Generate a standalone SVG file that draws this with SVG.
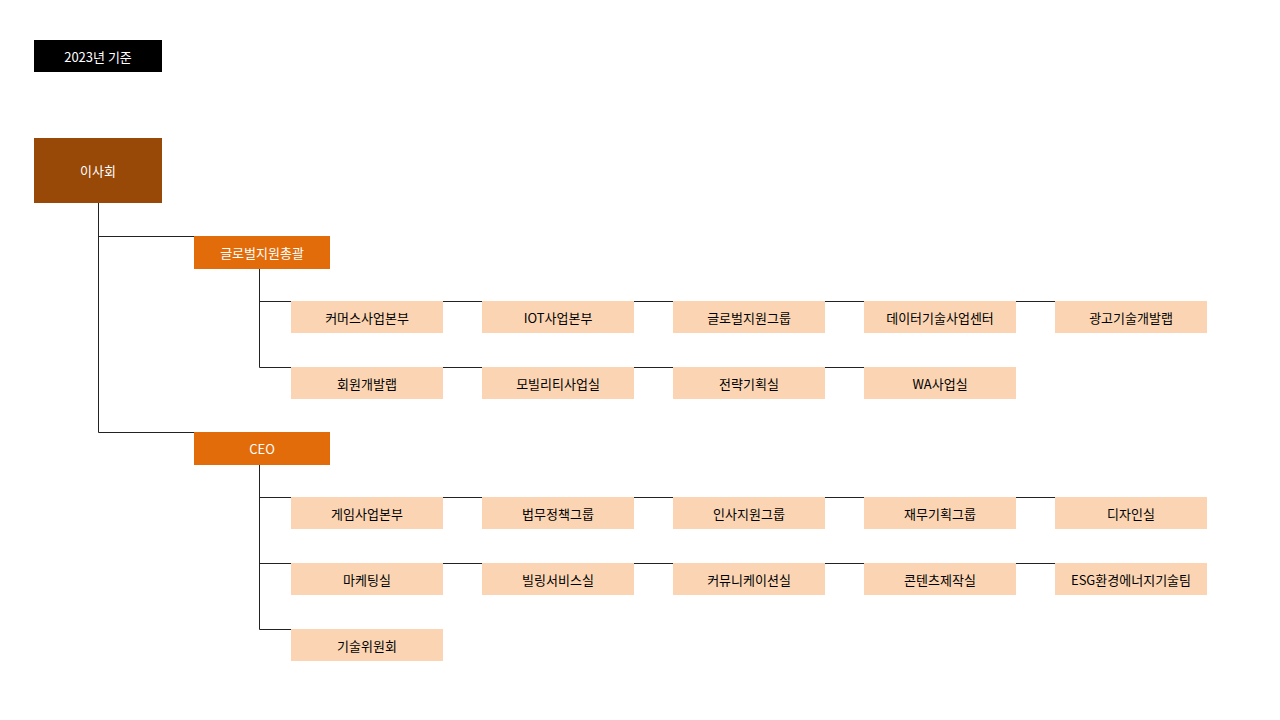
<svg xmlns="http://www.w3.org/2000/svg" width="1280" height="720" viewBox="0 0 1280 720">
<style>
text{font-family:"Noto Sans CJK KR","Noto Sans",sans-serif;font-size:13px;text-anchor:middle;dominant-baseline:central}
.w{fill:#fff}.k{fill:#000}
.s{fill:#fbd5b3}.o{fill:#e36c0a}
#connectors path{stroke:#222;stroke-width:1;fill:none}
</style>
<rect width="1280" height="720" fill="#fff"/>
<g id="year"><rect x="34" y="40" width="128" height="32" fill="#000"/><text class="w" x="98" y="56">2023년 기준</text></g>
<g id="connectors">
<path d="M98.5 203V432.5H194M98.5 236.5H194"/>
<path d="M259.5 269V367.5H291M259.5 301.5H291M443 301.5H482M634 301.5H673M825 301.5H864M1016 301.5H1055M443 367.5H482M634 367.5H673M825 367.5H864"/>
<path d="M259.5 465V629.5H291M259.5 497.5H291M443 497.5H482M634 497.5H673M825 497.5H864M1016 497.5H1055M259.5 563.5H291M443 563.5H482M634 563.5H673M825 563.5H864M1016 563.5H1055"/>
</g>
<g id="board"><rect x="34" y="138" width="128" height="65" fill="#984807"/><text class="w" x="98" y="170.5">이사회</text></g>
<g id="global"><rect class="o" x="194" y="236" width="136" height="33"/><text class="w" x="262" y="252.5">글로벌지원총괄</text></g>
<g id="ceo"><rect class="o" x="194" y="432" width="136" height="33"/><text class="w" x="262" y="448.5">CEO</text></g>
<g id="n1"><rect class="s" x="291" y="301" width="152" height="32"/><text x="367" y="317">커머스사업본부</text></g>
<g id="n2"><rect class="s" x="482" y="301" width="152" height="32"/><text x="558" y="317">IOT사업본부</text></g>
<g id="n3"><rect class="s" x="673" y="301" width="152" height="32"/><text x="749" y="317">글로벌지원그룹</text></g>
<g id="n4"><rect class="s" x="864" y="301" width="152" height="32"/><text x="940" y="317">데이터기술사업센터</text></g>
<g id="n5"><rect class="s" x="1055" y="301" width="152" height="32"/><text x="1131" y="317">광고기술개발랩</text></g>
<g id="n6"><rect class="s" x="291" y="367" width="152" height="32"/><text x="367" y="383">회원개발랩</text></g>
<g id="n7"><rect class="s" x="482" y="367" width="152" height="32"/><text x="558" y="383">모빌리티사업실</text></g>
<g id="n8"><rect class="s" x="673" y="367" width="152" height="32"/><text x="749" y="383">전략기획실</text></g>
<g id="n9"><rect class="s" x="864" y="367" width="152" height="32"/><text x="940" y="383">WA사업실</text></g>
<g id="c1"><rect class="s" x="291" y="497" width="152" height="32"/><text x="367" y="513">게임사업본부</text></g>
<g id="c2"><rect class="s" x="482" y="497" width="152" height="32"/><text x="558" y="513">법무정책그룹</text></g>
<g id="c3"><rect class="s" x="673" y="497" width="152" height="32"/><text x="749" y="513">인사지원그룹</text></g>
<g id="c4"><rect class="s" x="864" y="497" width="152" height="32"/><text x="940" y="513">재무기획그룹</text></g>
<g id="c5"><rect class="s" x="1055" y="497" width="152" height="32"/><text x="1131" y="513">디자인실</text></g>
<g id="c6"><rect class="s" x="291" y="563" width="152" height="32"/><text x="367" y="579">마케팅실</text></g>
<g id="c7"><rect class="s" x="482" y="563" width="152" height="32"/><text x="558" y="579">빌링서비스실</text></g>
<g id="c8"><rect class="s" x="673" y="563" width="152" height="32"/><text x="749" y="579">커뮤니케이션실</text></g>
<g id="c9"><rect class="s" x="864" y="563" width="152" height="32"/><text x="940" y="579">콘텐츠제작실</text></g>
<g id="c10"><rect class="s" x="1055" y="563" width="152" height="32"/><text x="1131" y="579">ESG환경에너지기술팀</text></g>
<g id="c11"><rect class="s" x="291" y="629" width="152" height="32"/><text x="367" y="645">기술위원회</text></g>
</svg>
